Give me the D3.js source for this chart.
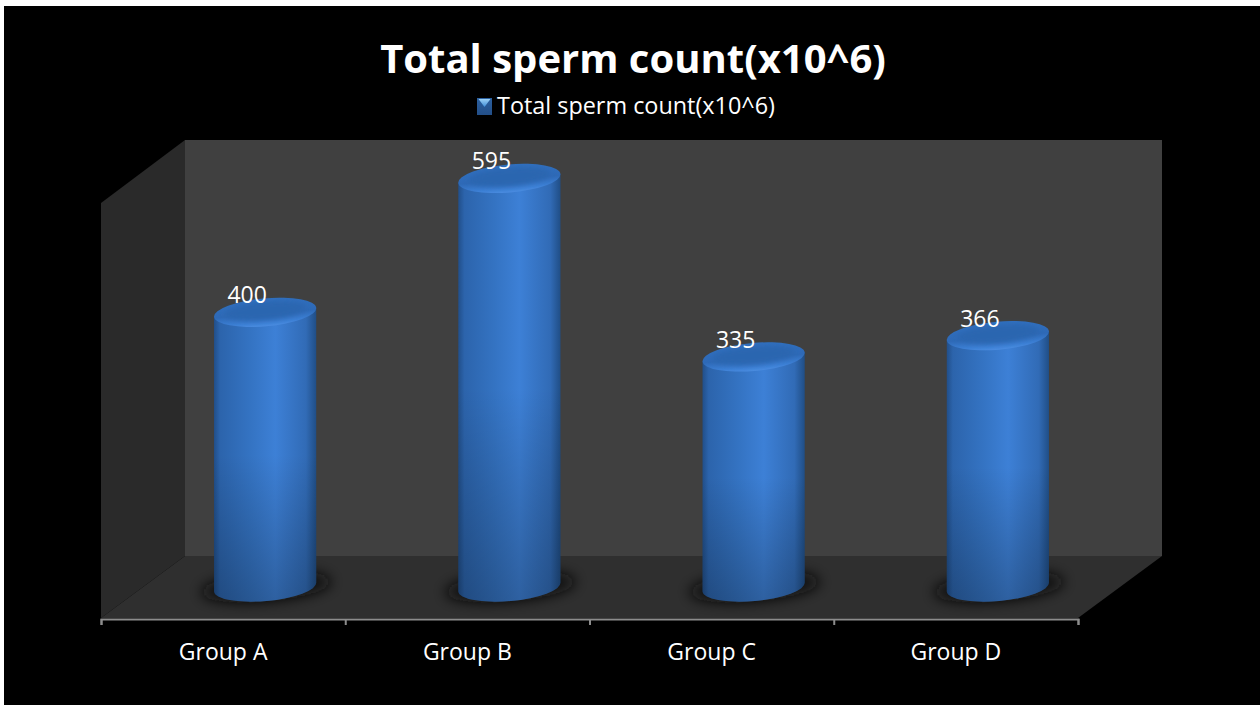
<!DOCTYPE html>
<html>
<head>
<meta charset="utf-8">
<script src="https://cdn.jsdelivr.net/npm/d3@7"></script>
<style>
  html, body { margin: 0; padding: 0; background: #fff; overflow: hidden; }
  svg { display: block; }
  text { font-family: "Open Sans", sans-serif; fill: #fff; }
</style>
</head>
<body>
<svg width="1260" height="705"></svg>
<script>
var groups = ["Group A", "Group B", "Group C", "Group D"];
var counts = [400, 595, 335, 366];
var seriesName = "Total sperm count(x10^6)";

var svg = d3.select("svg");

// the box the bars stand in
var left = 101, right = 1078, front = 619;
var depthX = 84, depthY = 63;
var wallTop = 140;

var x = d3.scaleBand().domain(groups).range([left, right]).paddingInner(0.58).paddingOuter(0.29);
var y = d3.scaleLinear().domain([0, 600]).range([587, 175]);
var edges = d3.scaleLinear().domain([0, groups.length]).range([left, right]);

var tilt = -5;
var rx = x.bandwidth() / 2;
var ry = 14;
var rad = tilt * Math.PI / 180;
var shift = 42;

var defs = svg.append("defs");

var side = defs.append("linearGradient").attr("id", "side");
side.append("stop").attr("offset", "0%").attr("stop-color", "#214f8a");
side.append("stop").attr("offset", "6%").attr("stop-color", "#2c64ac");
side.append("stop").attr("offset", "35%").attr("stop-color", "#3473c2");
side.append("stop").attr("offset", "60%").attr("stop-color", "#3d80d6");
side.append("stop").attr("offset", "90%").attr("stop-color", "#316bb6");
side.append("stop").attr("offset", "100%").attr("stop-color", "#204e86");

var fade = defs.append("linearGradient").attr("id", "fade").attr("x2", 0).attr("y2", 1);
fade.append("stop").attr("offset", "0%").attr("stop-color", "#000").attr("stop-opacity", 0);
fade.append("stop").attr("offset", "50%").attr("stop-color", "#000").attr("stop-opacity", 0);
fade.append("stop").attr("offset", "100%").attr("stop-color", "#000").attr("stop-opacity", 0.25);

var cap = defs.append("linearGradient").attr("id", "cap").attr("x2", 0).attr("y2", 1);
cap.append("stop").attr("offset", "0%").attr("stop-color", "#3070c0");
cap.append("stop").attr("offset", "55%").attr("stop-color", "#2e69b6");
cap.append("stop").attr("offset", "85%").attr("stop-color", "#3c7fd4");
cap.append("stop").attr("offset", "100%").attr("stop-color", "#4a8ce0");

var marker = defs.append("linearGradient").attr("id", "marker").attr("x2", 0).attr("y2", 1);
marker.append("stop").attr("offset", "0%").attr("stop-color", "#2b5f9f");
marker.append("stop").attr("offset", "100%").attr("stop-color", "#234f88");

var arrow = defs.append("linearGradient").attr("id", "arrow").attr("x2", 0).attr("y2", 1);
arrow.append("stop").attr("offset", "0%").attr("stop-color", "#9cd0f5");
arrow.append("stop").attr("offset", "100%").attr("stop-color", "#3f8ed8");

defs.append("filter").attr("id", "blur").attr("x", "-50%").attr("y", "-200%").attr("width", "200%").attr("height", "500%")
  .append("feGaussianBlur").attr("stdDeviation", 7);
defs.append("filter").attr("id", "soft").attr("x", "-20%").attr("y", "-60%").attr("width", "140%").attr("height", "220%")
  .append("feGaussianBlur").attr("stdDeviation", 2.5);

// black slide on the white page
svg.append("rect").attr("x", 4).attr("y", 6).attr("width", 1256).attr("height", 699).attr("fill", "#000");

// walls and floor
svg.append("polygon")
  .attr("points", [[left, front - 1], [left, wallTop + depthY], [left + depthX, wallTop], [left + depthX, front - depthY]].join(" "))
  .attr("fill", "#2a2a2a");
svg.append("rect")
  .attr("x", left + depthX).attr("y", wallTop)
  .attr("width", right - left).attr("height", front - depthY - wallTop)
  .attr("fill", "#404040");
svg.append("polygon")
  .attr("points", [[left, front - 1], [left + depthX, front - depthY], [right + depthX, front - depthY], [right, front - 1]].join(" "))
  .attr("fill", "#2f2f2f");

// bars
var bars = svg.selectAll("g.bar").data(groups).enter().append("g").attr("class", "bar");

function centerX(d) { return x(d) + x.bandwidth() / 2 + shift; }
function valueOf(i) { return counts[i]; }

bars.append("ellipse")
  .attr("cx", function (d) { return centerX(d) + 1; })
  .attr("cy", y(0))
  .attr("rx", rx + 14)
  .attr("ry", ry)
  .attr("transform", function (d) { return "rotate(" + tilt + "," + (centerX(d) + 1) + "," + y(0) + ")"; })
  .attr("fill", "#111")
  .attr("filter", "url(#blur)");

function bodyPath(d, i) {
  var cx = centerX(d);
  var dx = rx * Math.cos(rad), dy = rx * Math.sin(rad);
  var top = y(valueOf(i)), base = y(0);
  return "M" + (cx - dx) + "," + (top - dy) +
    "L" + (cx - dx) + "," + (base - dy) +
    "A" + rx + "," + ry + " " + tilt + " 0 0 " + (cx + dx) + "," + (base + dy) +
    "L" + (cx + dx) + "," + (top + dy) + "Z";
}

bars.append("path").attr("d", bodyPath).attr("fill", "url(#side)");
bars.append("path").attr("d", bodyPath).attr("fill", "url(#fade)");

bars.append("ellipse")
  .attr("cx", centerX)
  .attr("cy", function (d, i) { return y(valueOf(i)); })
  .attr("rx", rx)
  .attr("ry", ry)
  .attr("transform", function (d, i) { return "rotate(" + tilt + "," + centerX(d) + "," + y(valueOf(i)) + ")"; })
  .attr("fill", "url(#cap)");

bars.append("ellipse")
  .attr("cx", centerX)
  .attr("cy", function (d, i) { return y(valueOf(i)) - 1.5; })
  .attr("rx", rx - 10)
  .attr("ry", ry - 5)
  .attr("transform", function (d, i) { return "rotate(" + tilt + "," + centerX(d) + "," + y(valueOf(i)) + ")"; })
  .attr("fill", "#2c66b0")
  .attr("filter", "url(#soft)");

bars.append("text")
  .attr("x", function (d) { return centerX(d) - 18; })
  .attr("y", function (d, i) { return y(valueOf(i)) - 9; })
  .attr("text-anchor", "middle")
  .attr("font-size", 23)
  .text(function (d, i) { return valueOf(i); });

// axis: ticks sit on the band edges, labels in the middle of the bands
var tickAxis = svg.append("g")
  .attr("transform", "translate(0," + front + ")")
  .call(d3.axisBottom(edges).ticks(groups.length).tickSize(6).tickSizeOuter(6).tickFormat(""));
tickAxis.selectAll("path, line").attr("stroke", "#8c8c8c").attr("stroke-width", 2);

var labelAxis = svg.append("g")
  .attr("transform", "translate(0," + front + ")")
  .call(d3.axisBottom(x).tickSize(0).tickPadding(25));
labelAxis.select(".domain").remove();
labelAxis.selectAll("text")
  .attr("font-family", "'Open Sans', sans-serif")
  .attr("font-size", 23)
  .attr("fill", "#fff");

// title and legend
svg.append("text")
  .attr("x", 633).attr("y", 73)
  .attr("text-anchor", "middle")
  .attr("font-size", 40)
  .attr("font-weight", 700)
  .text(seriesName);

svg.append("rect").attr("x", 477).attr("y", 98).attr("width", 15).attr("height", 17).attr("fill", "url(#marker)");
svg.append("polygon").attr("points", "478.5,99 490.5,99 484.5,107").attr("fill", "url(#arrow)");

svg.append("text")
  .attr("x", 497).attr("y", 114)
  .attr("font-size", 23.4)
  .text(seriesName);
</script>
</body>
</html>
